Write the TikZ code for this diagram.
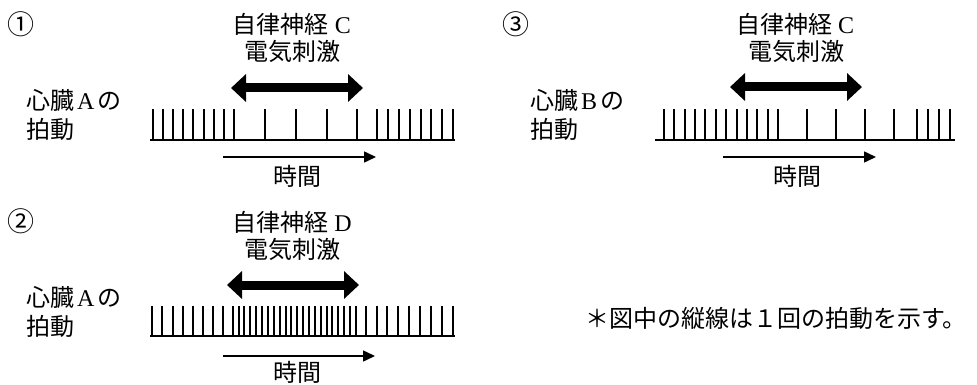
\documentclass[tikz,border=0pt]{standalone}
\usepackage{fontspec}
\setmainfont{Noto Sans CJK JP}
\newfontfamily\lat{Liberation Serif}
\usetikzlibrary{arrows.meta}
\tikzset{
  lbl/.style={inner sep=0pt, font=\fontsize{24}{27}\selectfont},
  num/.style={inner sep=0pt, font=\fontsize{27}{29}\selectfont},
  tickmark/.style={line width=2pt},
  baseln/.style={line width=2pt},
  stim/.style={line width=9pt, {Triangle[length=15pt,width=27pt]}-{Triangle[length=15pt,width=27pt]}},
  timearrow/.style={line width=1.5pt, -{Triangle[length=12pt,width=11pt]}}
}
\begin{document}
\begin{tikzpicture}[x=1pt,y=-1pt]
\path[use as bounding box, fill=white] (0,0) rectangle (977,385);

% ---------- Panel 1 ----------
\node[num] (n1) at (21,24) {①};
\node[lbl] (h1a) at (292,24) {自律神経\hspace{6pt}{\lat C}};
\node[lbl] (h1b) at (292,51) {電気刺激};
\coordinate (s1l) at (231,88); \coordinate (s1r) at (363,88);
\draw[stim] (s1l) -- (s1r);
\node[lbl, anchor=west] (l1a) at (26,100) {心臓\hspace{3pt}{\lat A}\hspace{3pt}の};
\node[lbl, anchor=west] (l1b) at (26,129) {拍動};
\coordinate (b1l) at (150,140); \coordinate (b1r) at (455,140);
\draw[baseln] (b1l) -- (b1r);
\foreach \i in {0,...,8} \draw[tickmark] ({round(153+10.1*\i)},140) -- ++(0,-31);
\foreach \x in {265,296,327,357} \draw[tickmark] (\x,140) -- ++(0,-31);
\foreach \i in {0,...,7} \draw[tickmark] ({round(377+10.9*\i)},140) -- ++(0,-31);
\coordinate (t1s) at (223,157); \coordinate (t1e) at (376,157);
\draw[timearrow] (t1s) -- (t1e);
\node[lbl] (tm1) at (297,176) {時間};

% ---------- Panel 2 ----------
\node[num] (n2) at (21,221) {②};
\node[lbl] (h2a) at (292,222) {自律神経\hspace{6pt}{\lat D}};
\node[lbl] (h2b) at (292,249) {電気刺激};
\coordinate (s2l) at (227,285); \coordinate (s2r) at (359,285);
\draw[stim] (s2l) -- (s2r);
\node[lbl, anchor=west] (l2a) at (26,297) {心臓\hspace{3pt}{\lat A}\hspace{3pt}の};
\node[lbl, anchor=west] (l2b) at (26,326) {拍動};
\coordinate (b2l) at (150,336); \coordinate (b2r) at (455,336);
\draw[baseln] (b2l) -- (b2r);
\foreach \i in {0,...,7} \draw[tickmark] ({round(152.3+10.1*\i)},336) -- ++(0,-30);
\foreach \i in {0,...,21} \draw[tickmark] ({round(232.7+5.87*\i)},336) -- ++(0,-30);
\foreach \i in {0,...,8} \draw[tickmark] ({round(365.7+10.9*\i)},336) -- ++(0,-30);
\coordinate (t2s) at (223,356); \coordinate (t2e) at (375,356);
\draw[timearrow] (t2s) -- (t2e);
\node[lbl] (tm2) at (297,372) {時間};

% ---------- Panel 3 ----------
\node[num] (n3) at (516,24) {③};
\node[lbl] (h3a) at (795,24) {自律神経\hspace{6pt}{\lat C}};
\node[lbl] (h3b) at (796,51) {電気刺激};
\coordinate (s3l) at (730,87); \coordinate (s3r) at (862,87);
\draw[stim] (s3l) -- (s3r);
\node[lbl, anchor=west] (l3a) at (530,100) {心臓\hspace{3pt}{\lat B}\hspace{3pt}の};
\node[lbl, anchor=west] (l3b) at (530,129) {拍動};
\coordinate (b3l) at (655,140) ; \coordinate (b3r) at (955,140);
\draw[baseln] (b3l) -- (b3r);
\foreach \i in {0,...,11} \draw[tickmark] ({round(664+10.36*\i)},140) -- ++(0,-31);
\foreach \x in {807,836,865,894} \draw[tickmark] (\x,140) -- ++(0,-31);
\foreach \x in {917,928,939,950} \draw[tickmark] (\x,140) -- ++(0,-31);
\coordinate (t3s) at (723,157); \coordinate (t3e) at (876,157);
\draw[timearrow] (t3s) -- (t3e);
\node[lbl] (tm3) at (797,176) {時間};

% ---------- Note ----------
\node[lbl, anchor=west] (note) at (585,318) {＊図中の縦線は１回の拍動を示す。};
\end{tikzpicture}
\end{document}
